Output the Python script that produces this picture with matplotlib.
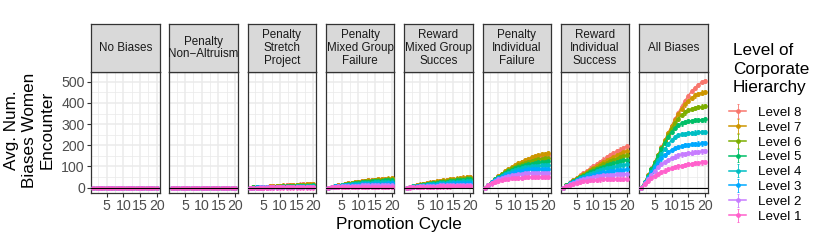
import matplotlib
matplotlib.use("Agg")
import matplotlib.pyplot as plt
from matplotlib.ticker import FixedLocator

plt.rcParams['font.family'] = ['Liberation Sans', 'DejaVu Sans']

# ---------------- data ----------------
cycles = list(range(1, 21))
levels = ["Level 8", "Level 7", "Level 6", "Level 5", "Level 4", "Level 3", "Level 2", "Level 1"]
level_colors = ["#F8766D", "#CD9600", "#7CAE00", "#00BE67", "#00BFC4", "#00A9FF", "#C77CFF", "#FF61CC"]
panel_titles = ["No Biases", "Penalty\nNon\u2212Altruism", "Penalty\nStretch\nProject",
                "Penalty\nMixed Group\nFailure", "Reward\nMixed Group\nSucces",
                "Penalty\nIndividual\nFailure", "Reward\nIndividual\nSuccess", "All Biases"]
err_half = 10  # approximate error-bar half width

zero_row = [0, 0, 0, 0, 0, 0, 0, 0, 0, 0, 0, 0, 0, 0, 0, 0, 0, 0, 0, 0]
no_biases = [zero_row, zero_row, zero_row, zero_row, zero_row, zero_row, zero_row, zero_row]
penalty_non_altruism = [zero_row, zero_row, zero_row, zero_row, zero_row, zero_row, zero_row, zero_row]

penalty_stretch = [
    [0, 1, 2, 3, 4, 5, 6, 7, 8, 9, 10, 11, 12, 13, 14, 15, 16, 17, 17, 18],
    [0, 1, 2, 3, 4, 5, 6, 7, 8, 9, 10, 10, 11, 12, 13, 14, 15, 16, 16, 17],
    [0, 1, 2, 2, 3, 4, 5, 5, 6, 7, 8, 8, 9, 10, 11, 11, 12, 13, 13, 14],
    [0, 1, 1, 2, 3, 3, 4, 4, 5, 5, 6, 7, 7, 8, 8, 9, 9, 10, 10, 11],
    [0, 0, 1, 1, 2, 2, 3, 3, 3, 4, 4, 5, 5, 5, 6, 6, 7, 7, 7, 8],
    [0, 0, 1, 1, 1, 1, 2, 2, 2, 2, 3, 3, 3, 3, 4, 4, 4, 4, 5, 5],
    [0, 0, 0, 1, 1, 1, 1, 1, 1, 2, 2, 2, 2, 2, 2, 2, 3, 3, 3, 3],
    [0, 0, 0, 0, 0, 0, 1, 1, 1, 1, 1, 1, 1, 1, 1, 1, 1, 1, 1, 1],
]

penalty_mixed_failure = [
    [0, 4, 8, 11, 14, 17, 20, 23, 25, 28, 30, 32, 34, 36, 37, 39, 40, 41, 42, 43],
    [0, 4, 8, 11, 14, 17, 20, 23, 26, 28, 30, 32, 34, 36, 38, 39, 41, 42, 43, 44],
    [0, 4, 7, 10, 13, 16, 19, 21, 24, 26, 28, 30, 32, 33, 35, 36, 37, 38, 39, 40],
    [0, 4, 7, 10, 12, 15, 17, 19, 21, 23, 25, 27, 28, 30, 31, 32, 33, 34, 34, 35],
    [0, 3, 6, 9, 11, 13, 15, 16, 18, 19, 21, 22, 23, 24, 25, 26, 26, 27, 27, 28],
    [0, 3, 6, 8, 10, 11, 12, 13, 14, 15, 16, 17, 17, 18, 18, 19, 19, 19, 20, 20],
    [0, 3, 5, 6, 7, 8, 9, 9, 10, 10, 11, 11, 11, 11, 12, 12, 12, 12, 12, 12],
    [0, 2, 3, 3, 4, 4, 4, 4, 5, 5, 5, 5, 5, 5, 5, 5, 5, 5, 5, 5],
]

reward_mixed_success = [
    [0, 4, 8, 11, 14, 17, 20, 23, 26, 28, 31, 33, 35, 37, 39, 41, 43, 45, 48, 50],
    [0, 4, 8, 12, 15, 18, 21, 24, 27, 30, 32, 35, 37, 39, 41, 43, 46, 48, 50, 52],
    [0, 4, 7, 10, 13, 16, 19, 22, 24, 27, 29, 31, 33, 35, 37, 39, 41, 43, 45, 46],
    [0, 3, 6, 9, 12, 14, 17, 19, 21, 23, 25, 27, 29, 31, 32, 34, 36, 37, 39, 40],
    [0, 3, 6, 8, 10, 12, 14, 16, 18, 19, 21, 22, 24, 25, 26, 28, 29, 30, 31, 32],
    [0, 3, 5, 7, 9, 10, 12, 13, 14, 15, 16, 17, 18, 19, 20, 21, 22, 22, 23, 24],
    [0, 2, 4, 5, 6, 7, 8, 9, 10, 10, 11, 12, 12, 13, 13, 14, 14, 15, 15, 15],
    [0, 1, 2, 3, 3, 4, 4, 5, 5, 5, 6, 6, 6, 6, 7, 7, 7, 7, 7, 7],
]

penalty_individual_failure = [
    [0, 14, 28, 41, 53, 64, 75, 85, 94, 103, 111, 119, 126, 132, 137, 142, 146, 150, 153, 155],
    [0, 14, 28, 42, 55, 66, 77, 87, 97, 106, 115, 123, 130, 137, 143, 148, 153, 157, 160, 162],
    [0, 14, 27, 40, 52, 63, 73, 82, 91, 99, 106, 112, 118, 123, 127, 131, 134, 137, 139, 140],
    [0, 14, 27, 39, 50, 60, 69, 77, 84, 91, 97, 102, 107, 111, 114, 117, 119, 121, 123, 124],
    [0, 13, 26, 37, 47, 56, 64, 71, 77, 83, 88, 92, 96, 99, 101, 103, 104, 105, 106, 107],
    [0, 13, 25, 35, 44, 52, 59, 65, 70, 74, 78, 81, 84, 86, 87, 88, 89, 89, 90, 90],
    [0, 12, 23, 32, 40, 46, 51, 55, 59, 62, 64, 66, 67, 68, 69, 69, 70, 70, 70, 70],
    [0, 11, 20, 27, 33, 37, 40, 43, 45, 46, 47, 48, 49, 49, 50, 50, 50, 50, 50, 50],
]

reward_individual_success = [
    [0, 12, 24, 35, 46, 57, 68, 79, 90, 100, 111, 122, 133, 143, 153, 162, 171, 180, 188, 196],
    [0, 12, 23, 34, 45, 55, 65, 75, 85, 94, 103, 112, 121, 129, 137, 145, 152, 159, 167, 175],
    [0, 11, 22, 32, 42, 52, 61, 70, 79, 87, 95, 103, 110, 117, 124, 131, 137, 143, 149, 154],
    [0, 11, 21, 31, 40, 49, 57, 65, 73, 80, 87, 93, 99, 105, 110, 115, 120, 125, 129, 133],
    [0, 10, 20, 29, 37, 45, 52, 59, 65, 71, 77, 82, 87, 91, 95, 99, 102, 105, 108, 110],
    [0, 10, 19, 27, 34, 41, 47, 52, 57, 62, 66, 70, 73, 76, 78, 80, 82, 84, 85, 86],
    [0, 9, 17, 24, 30, 35, 40, 44, 48, 51, 54, 56, 58, 60, 61, 62, 63, 64, 65, 65],
    [0, 8, 14, 19, 24, 28, 31, 33, 35, 37, 38, 39, 40, 41, 41, 42, 42, 43, 43, 43],
]

all_biases = [
    [0, 28, 58, 90, 122, 156, 190, 224, 258, 292, 323, 354, 383, 410, 434, 455, 472, 486, 497, 505],
    [0, 28, 58, 89, 121, 155, 189, 223, 257, 290, 320, 348, 372, 393, 410, 424, 435, 443, 449, 453],
    [0, 28, 57, 88, 120, 153, 186, 219, 250, 279, 304, 325, 342, 355, 365, 372, 377, 381, 383, 385],
    [0, 27, 56, 86, 118, 150, 182, 212, 240, 263, 281, 294, 303, 309, 313, 316, 318, 320, 321, 322],
    [0, 25, 50, 76, 103, 130, 157, 182, 205, 224, 238, 247, 252, 255, 257, 259, 260, 261, 262, 262],
    [0, 24, 48, 72, 96, 118, 138, 155, 168, 178, 186, 192, 197, 200, 203, 205, 207, 208, 209, 210],
    [0, 22, 42, 62, 80, 96, 110, 122, 132, 140, 147, 152, 157, 160, 163, 166, 168, 170, 171, 172],
    [0, 18, 33, 46, 57, 66, 74, 81, 87, 92, 96, 100, 104, 107, 110, 113, 115, 117, 119, 120],
]

panel_data = [no_biases, penalty_non_altruism, penalty_stretch, penalty_mixed_failure,
              reward_mixed_success, penalty_individual_failure, reward_individual_success, all_biases]

y_ticks = [0, 100, 200, 300, 400, 500]
x_ticks = [5, 10, 15, 20]

# ---------------- layout ----------------
W, H = 830, 246
fig = plt.figure(figsize=(W / 100, H / 100), dpi=100)

def fx(px):
    return px / W

def fy(py):
    return 1 - py / H

panel_left0 = 91.0
panel_step = 78.3
panel_w = 68.5
panel_top = 71.7
panel_bottom = 192.7
strip_top = 24.3

GRID = "#EBEBEB"
BORDER = "#333333"
TICKTXT = "#4D4D4D"

handles = []
for i, (title, data) in enumerate(zip(panel_titles, panel_data)):
    left = panel_left0 + i * panel_step
    ax = fig.add_axes([fx(left), fy(panel_bottom), panel_w / W, (panel_bottom - panel_top) / H])
    ax.set_xlim(0.3, 20.8)
    ax.set_ylim(-23.6, 547.2)
    ax.xaxis.set_major_locator(FixedLocator(x_ticks))
    ax.xaxis.set_minor_locator(FixedLocator([2.5, 7.5, 12.5, 17.5]))
    ax.yaxis.set_major_locator(FixedLocator(y_ticks))
    ax.yaxis.set_minor_locator(FixedLocator([50, 150, 250, 350, 450]))
    ax.grid(which="major", color=GRID, lw=1.1, zorder=0)
    ax.grid(which="minor", color=GRID, lw=0.55, zorder=0)
    ax.set_axisbelow(True)
    for s in ax.spines.values():
        s.set_color(BORDER)
        s.set_linewidth(0.9)
    ax.tick_params(axis="both", which="minor", length=0)
    ax.tick_params(axis="both", which="major", length=3, width=0.8, color=BORDER,
                   labelsize=10.2, labelcolor=TICKTXT, pad=1.5)
    if i == 0:
        ax.set_yticklabels([str(v) for v in y_ticks])
    else:
        ax.tick_params(axis="y", left=False, labelleft=False)
    for row, lab, col in zip(data, levels, level_colors):
        h = ax.errorbar(cycles, row, yerr=err_half, fmt="-o", color=col, ms=2.4, lw=1.1,
                        elinewidth=0.6, capsize=1.0, capthick=0.6, label=lab, zorder=3)
        if i == 0:
            handles.append(h)
    ax.axhline(0, color="black", lw=0.8, zorder=5)

    # strip
    sax = fig.add_axes([fx(left), fy(panel_top), panel_w / W, (panel_top - strip_top) / H])
    sax.set_facecolor("#D9D9D9")
    sax.set_xticks([])
    sax.set_yticks([])
    for s in sax.spines.values():
        s.set_color(BORDER)
        s.set_linewidth(0.9)
    sax.text(0.5, 0.5, title, ha="center", va="center", fontsize=8.4, color="#1A1A1A",
             linespacing=1.1, transform=sax.transAxes)

# axis titles
fig.text(fx(399), fy(224), "Promotion Cycle", ha="center", va="center", fontsize=12.3)
fig.text(fx(29), fy(130), "Avg. Num.\nBiases Women\nEncounter", ha="center", va="center",
         rotation=90, fontsize=12.3, linespacing=1.25)

# legend
fig.text(fx(733), fy(43), "Level of\nCorporate\nHierarchy", ha="left", va="top",
         fontsize=12.3, linespacing=1.3)
leg = fig.legend(handles=handles, labels=levels, loc="upper left",
                 bbox_to_anchor=(fx(729), fy(106.5)), frameon=False, fontsize=9.6,
                 handlelength=1.3, handletextpad=0.9, labelspacing=0.19, borderaxespad=0,
                 borderpad=0)

fig.savefig("out.png", dpi=100)
